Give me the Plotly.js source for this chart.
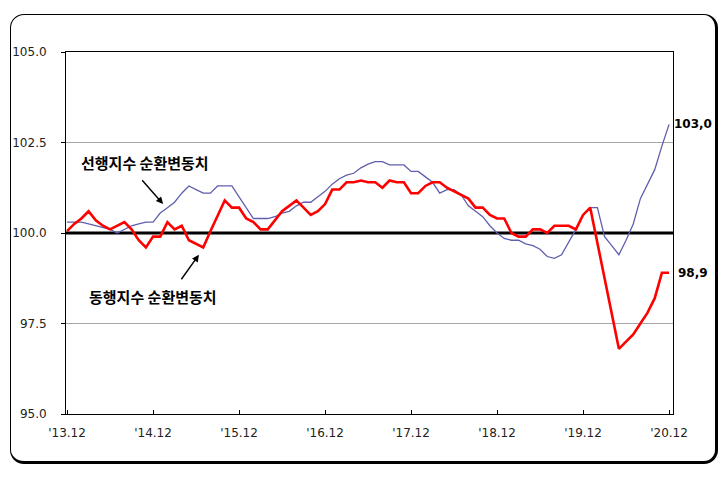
<!DOCTYPE html>
<html>
<head>
<meta charset="utf-8">
<script src="https://cdn.plot.ly/plotly-3.0.1.min.js"></script>
<style>
  html, body { margin:0; padding:0; background:#fff; }
  #wrap { position:relative; width:727px; height:479px; }
  #chart { position:absolute; left:0; top:0; width:727px; height:479px; }
  #frame { position:absolute; left:10px; top:14px; width:704px; height:446px;
           border:1px solid #000; border-right-width:3px; border-bottom-width:3px;
           border-radius:14px; pointer-events:none; }
</style>
</head>
<body>
<div id="wrap">
  <div id="chart"></div>
  <div id="frame"></div>
</div>
<script>
// Monthly, 2013.12 .. 2020.12 (85 months)
const months = [];
for (let y = 2013, m = 12; months.length < 85; ) {
  months.push(y + '.' + String(m).padStart(2, '0'));
  m++; if (m > 12) { m = 1; y++; }
}
const monthIndex = months.map((_, i) => i);

// 선행지수 순환변동치 (leading index, cyclical component)
const leading = [
  100.3, 100.3, 100.3, 100.25, 100.2, 100.15, 100.1, 100.0, 100.1, 100.2, 100.25, 100.3,
  100.3, 100.55, 100.7, 100.85, 101.1, 101.3, 101.2, 101.1, 101.1, 101.3, 101.3, 101.3,
  101.0, 100.7, 100.4, 100.4, 100.4, 100.45, 100.55, 100.6, 100.75, 100.85, 100.85, 101.0,
  101.15, 101.35, 101.5, 101.6, 101.65, 101.8, 101.9, 101.97, 101.97, 101.88, 101.88, 101.88,
  101.7, 101.7, 101.55, 101.4, 101.1, 101.2, 101.2, 101.05, 100.75, 100.6, 100.45, 100.2,
  100.0, 99.85, 99.8, 99.8, 99.7, 99.65, 99.55, 99.35, 99.3, 99.4, 99.75, 100.1,
  100.5, 100.7, 100.7, 99.9, 99.65, 99.4, 99.8, 100.25, 100.95, 101.35, 101.75, 102.4,
  103.0
];

// 동행지수 순환변동치 (coincident index, cyclical component)
const coincident = [
  100.05, 100.25, 100.4, 100.6, 100.35, 100.2, 100.1, 100.2, 100.3, 100.1, 99.8, 99.6,
  99.9, 99.9, 100.3, 100.1, 100.2, 99.8, 99.7, 99.6, 100.05, 100.5, 100.9, 100.7,
  100.7, 100.4, 100.3, 100.1, 100.1, 100.35, 100.6, 100.75, 100.9, 100.7, 100.5, 100.6,
  100.8, 101.2, 101.2, 101.4, 101.4, 101.45, 101.4, 101.4, 101.25, 101.45, 101.4, 101.4,
  101.1, 101.1, 101.3, 101.4, 101.4, 101.25, 101.15, 101.05, 100.95, 100.7, 100.7, 100.5,
  100.4, 100.4, 100.0, 99.9, 99.9, 100.1, 100.1, 100.0, 100.2, 100.2, 100.2, 100.1,
  100.5, 100.7, 99.7, 98.7, 97.7, 96.8, 97.0, 97.2, 97.5, 97.8, 98.2, 98.9,
  98.9
];

const tickIndex = [0, 12, 24, 36, 48, 60, 72, 84];
const tickLabels = ["'13.12", "'14.12", "'15.12", "'16.12", "'17.12", "'18.12", "'19.12", "'20.12"];
const yTicks = [95, 97.5, 100, 102.5, 105];
const gridValues = [97.5, 102.5];
const baseValue = 100;

const leadName = '선행지수 순환변동치';
const coinName = '동행지수 순환변동치';
const last = monthIndex.length - 1;
const fmt = v => v.toFixed(1).replace('.', ',');

const traces = [
  { x: monthIndex, y: leading, type: 'scatter', mode: 'lines', name: leadName,
    line: { color: '#5f5fae', width: 1.3 }, hoverinfo: 'skip' },
  { x: monthIndex, y: coincident, type: 'scatter', mode: 'lines', name: coinName,
    line: { color: '#ff0000', width: 2.6 }, hoverinfo: 'skip' }
];

const kfont = { family: 'Noto Sans CJK KR, sans-serif', size: 15, color: '#000', weight: 'bold' };
const arrowStyle = { showarrow: true, text: '', axref: 'x', ayref: 'y',
  arrowhead: 2, arrowsize: 1, arrowwidth: 1.4, arrowcolor: '#000' };

const shapes = gridValues.map(v => ({
  type: 'line', xref: 'paper', yref: 'y', x0: 0, x1: 1, y0: v, y1: v,
  line: { color: '#a8a8a8', width: 1 }, layer: 'below'
}));
shapes.push({ type: 'line', xref: 'paper', yref: 'y', x0: 0, x1: 1, y0: baseValue, y1: baseValue,
  line: { color: '#000', width: 3.2 }, layer: 'below' });

const layout = {
  width: 727, height: 479,
  margin: { l: 66, r: 54, t: 52, b: 65 },
  paper_bgcolor: '#fff', plot_bgcolor: '#fff',
  showlegend: false,
  font: { family: 'DejaVu Sans, sans-serif', size: 12, color: '#222' },
  xaxis: {
    range: [-0.15, 84.55], tickmode: 'array', tickvals: tickIndex, ticktext: tickLabels,
    showgrid: false, zeroline: false, showline: true, mirror: true,
    linecolor: '#000', linewidth: 1, ticks: 'inside', ticklen: 4, tickcolor: '#000',
    ticklabelstandoff: 8, tickfont: { size: 12, color: '#222' }
  },
  yaxis: {
    range: [95, 105], tickmode: 'array', tickvals: yTicks, tickformat: '.1f',
    showgrid: false, zeroline: false,
    showline: true, mirror: true, linecolor: '#000', linewidth: 1,
    ticks: 'outside', ticklen: 4, tickcolor: '#000', ticklabelstandoff: 12,
    tickfont: { size: 12, color: '#222' }
  },
  shapes: shapes,
  annotations: [
    { xref: 'paper', yref: 'paper', x: 0.021, y: 0.695, xanchor: 'left', yanchor: 'middle',
      text: leadName, showarrow: false, font: kfont },
    { xref: 'paper', yref: 'paper', x: 0.034, y: 0.325, xanchor: 'left', yanchor: 'middle',
      text: coinName, showarrow: false, font: kfont },
    Object.assign({ x: 13.4, y: 100.8, ax: 10.3, ay: 101.5 }, arrowStyle),
    Object.assign({ x: 18.4, y: 99.4, ax: 15.8, ay: 98.68 }, arrowStyle),
    { x: monthIndex[last], y: leading[last], text: fmt(leading[last]), showarrow: false,
      xanchor: 'left', yanchor: 'middle', xshift: 3,
      font: { family: 'DejaVu Sans, sans-serif', size: 12, color: '#000', weight: 'bold' } },
    { x: monthIndex[last], y: coincident[last], text: fmt(coincident[last]), showarrow: false,
      xanchor: 'left', yanchor: 'middle', xshift: 7,
      font: { family: 'DejaVu Sans, sans-serif', size: 12, color: '#000', weight: 'bold' } }
  ]
};

Plotly.newPlot('chart', traces, layout, { staticPlot: true, displayModeBar: false });
</script>
</body>
</html>
